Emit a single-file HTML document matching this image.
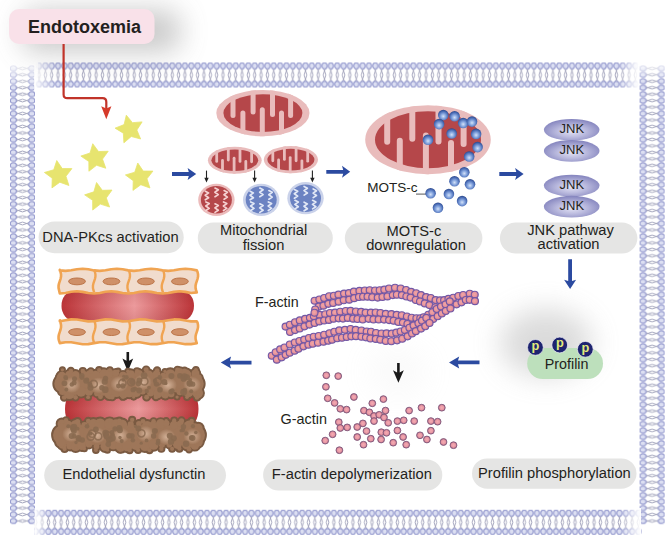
<!DOCTYPE html>
<html><head><meta charset="utf-8"><style>
html,body{margin:0;padding:0;background:#fff;}
svg{display:block;font-family:"Liberation Sans", sans-serif;}
</style></head><body>
<svg width="669" height="542" viewBox="0 0 669 542">
<rect width="669" height="542" fill="#fff"/>
<defs>
<filter id="shblur" x="-60%" y="-150%" width="220%" height="400%"><feGaussianBlur stdDeviation="14"/></filter>
<filter id="soft" x="-80%" y="-80%" width="260%" height="260%"><feGaussianBlur stdDeviation="14"/></filter>
<pattern id="memH" x="0" y="0" width="6.345" height="25" patternUnits="userSpaceOnUse">
  <path d="M1.97,5.6 L3.17,8.2 L1.87,12.5 L3.17,16.8 L1.97,19.4 M4.37,5.6 L3.17,8.2 L4.47,12.5 L3.17,16.8 L4.37,19.4" fill="none" stroke="#9a9cb6" stroke-width="0.9"/>
  <rect x="0.72" y="0.4" width="4.9" height="5.8" rx="2.3" fill="#dcdff2" stroke="#989dd0" stroke-width="1.15"/>
  <rect x="0.72" y="18.8" width="4.9" height="5.8" rx="2.3" fill="#dcdff2" stroke="#989dd0" stroke-width="1.15"/>
</pattern>
<pattern id="memV" x="0" y="0" width="25" height="6.467" patternUnits="userSpaceOnUse">
  <path d="M5.6,2.03 L8.2,3.23 L12.5,1.88 L16.8,3.23 L19.4,2.03 M5.6,4.43 L8.2,3.23 L12.5,4.58 L16.8,3.23 L19.4,4.43" fill="none" stroke="#9a9cb6" stroke-width="0.9"/>
  <rect x="0.4" y="0.78" width="5.9" height="4.9" rx="2.3" fill="#dcdff2" stroke="#989dd0" stroke-width="1.15"/>
  <rect x="18.8" y="0.78" width="5.9" height="4.9" rx="2.3" fill="#dcdff2" stroke="#989dd0" stroke-width="1.15"/>
</pattern>
<radialGradient id="ballG" cx="0.5" cy="0.6" r="0.6" fx="0.5" fy="0.62"><stop offset="0" stop-color="#d4e2f8"/><stop offset="0.4" stop-color="#84a4de"/><stop offset="0.8" stop-color="#4264ae"/><stop offset="1" stop-color="#2c4686"/></radialGradient>
<radialGradient id="jnkG" cx="0.5" cy="0.58" r="0.56"><stop offset="0" stop-color="#e2e2f4"/><stop offset="0.45" stop-color="#bcbcdf"/><stop offset="1" stop-color="#8686bf"/></radialGradient>
<radialGradient id="actG" cx="0.45" cy="0.45" r="0.6"><stop offset="0" stop-color="#f4a8a2"/><stop offset="0.55" stop-color="#e6949e"/><stop offset="1" stop-color="#b06c8c"/></radialGradient>
<radialGradient id="gactG" cx="0.5" cy="0.5" r="0.55"><stop offset="0" stop-color="#f6acb4"/><stop offset="0.55" stop-color="#e898a4"/><stop offset="0.9" stop-color="#b86c84"/><stop offset="1" stop-color="#9a5a76"/></radialGradient>
<linearGradient id="vesselH" x1="0" x2="1" y1="0" y2="0"><stop offset="0" stop-color="#bb3438"/><stop offset="0.55" stop-color="#ec9a9c"/><stop offset="1" stop-color="#bb3438"/></linearGradient>
<linearGradient id="vesselV" x1="0" x2="0" y1="0" y2="1"><stop offset="0" stop-color="#6a0000" stop-opacity="0.18"/><stop offset="0.5" stop-color="#6a0000" stop-opacity="0"/><stop offset="1" stop-color="#6a0000" stop-opacity="0.18"/></linearGradient>
<linearGradient id="fadeR" x1="0" x2="1"><stop offset="0" stop-color="#fff"/><stop offset="1" stop-color="#fff" stop-opacity="0"/></linearGradient>
<linearGradient id="fadeL" x1="1" x2="0"><stop offset="0" stop-color="#fff"/><stop offset="1" stop-color="#fff" stop-opacity="0"/></linearGradient>
<linearGradient id="fadeD" x1="0" x2="0" y1="0" y2="1"><stop offset="0" stop-color="#fff"/><stop offset="1" stop-color="#fff" stop-opacity="0"/></linearGradient>
</defs>
<g transform="translate(35.83,62.5)"><rect width="602.8" height="25" fill="url(#memH)"/></g>
<g transform="translate(32.53,509.8)"><rect x="2.0" width="607.1" height="25" fill="url(#memH)"/></g>
<g transform="translate(10,65.07)"><rect width="25" height="459.2" fill="url(#memV)"/></g>
<g transform="translate(639.6,65.07)"><rect width="25" height="459.2" fill="url(#memV)"/></g>
<rect x="619" y="60" width="20" height="30" fill="url(#fadeL)"/>
<rect x="638" y="60" width="30" height="22" fill="url(#fadeD)"/>
<rect x="621" y="508" width="20" height="28" fill="url(#fadeL)"/>
<rect x="34.5" y="508" width="14" height="28" fill="url(#fadeR)"/>
<rect x="8" y="62" width="30" height="28" fill="url(#fadeD)" opacity="0.92"/>
<rect x="34" y="60" width="22" height="30" fill="url(#fadeR)" opacity="0.9"/>
<rect x="22" y="10" width="158" height="42" rx="14" fill="#7a7a7a" opacity="0.4" filter="url(#shblur)"/>
<rect x="9" y="9" width="145.5" height="35" rx="10" fill="#f9e1e9"/>
<text x="28" y="32.6" font-size="18" font-weight="bold" fill="#231f20">Endotoxemia</text>
<path d="M63.6,44 L63.6,94.5 Q63.6,98.2 67.3,98.2 L102.6,98.2 Q106.3,98.2 106.3,101.9 L106.3,109" fill="none" stroke="#c1342a" stroke-width="2.2"/>
<polygon points="101.2,106.2 106.3,108.6 111.4,106.2 106.3,119.2" fill="#d63a2a"/>
<polygon points="126.32,115.17 132.45,122.68 142.11,121.88 136.87,130.04 140.62,138.98 131.24,136.51 123.9,142.84 123.34,133.16 115.06,128.13 124.09,124.61" fill="#e7e46f" stroke="#e7e46f" stroke-width="0.8" stroke-linejoin="round"/>
<polygon points="92.76,143.72 98.5,151.54 108.19,151.25 102.53,159.12 105.8,168.24 96.57,165.29 88.9,171.22 88.85,161.53 80.84,156.07 90.05,153.03" fill="#e7e46f" stroke="#e7e46f" stroke-width="0.8" stroke-linejoin="round"/>
<polygon points="56.77,160.54 62.23,168.55 71.92,168.6 65.99,176.27 68.94,185.5 59.82,182.23 51.95,187.89 52.24,178.2 44.42,172.46 53.73,169.75" fill="#e7e46f" stroke="#e7e46f" stroke-width="0.8" stroke-linejoin="round"/>
<polygon points="137.77,163.04 143.23,171.05 152.92,171.1 146.99,178.77 149.94,188 140.82,184.73 132.95,190.39 133.24,180.7 125.42,174.96 134.73,172.25" fill="#e7e46f" stroke="#e7e46f" stroke-width="0.8" stroke-linejoin="round"/>
<polygon points="96.56,182.52 102.3,190.34 111.99,190.05 106.33,197.92 109.6,207.04 100.37,204.09 92.7,210.02 92.65,200.33 84.64,194.87 93.85,191.83" fill="#e7e46f" stroke="#e7e46f" stroke-width="0.8" stroke-linejoin="round"/>
<ellipse cx="262.9" cy="113.1" rx="46.6" ry="23.2" fill="#e9bcbc"/><ellipse cx="262.9" cy="113.1" rx="39.5" ry="18.8" fill="#b5474a"/><clipPath id="m1"><ellipse cx="262.9" cy="113.1" rx="46.6" ry="23.2"/></clipPath><g clip-path="url(#m1)" stroke="#e9bcbc" stroke-width="5" stroke-linecap="round"><line x1="233" y1="89.9" x2="233" y2="115.4"/><line x1="253.1" y1="89.9" x2="253.1" y2="112.1"/><line x1="272.5" y1="89.9" x2="272.5" y2="114.6"/><line x1="290.6" y1="89.9" x2="290.6" y2="115.4"/><line x1="242.9" y1="136.3" x2="242.9" y2="113"/><line x1="262.3" y1="136.3" x2="262.3" y2="109.7"/><line x1="281.5" y1="136.3" x2="281.5" y2="113"/></g>
<ellipse cx="234.8" cy="160.3" rx="26.9" ry="13.5" fill="#e9bcbc"/><ellipse cx="234.8" cy="160.3" rx="23.4" ry="10.8" fill="#b5474a"/><clipPath id="m2"><ellipse cx="234.8" cy="160.3" rx="26.9" ry="13.5"/></clipPath><g clip-path="url(#m2)" stroke="#e9bcbc" stroke-width="2.8" stroke-linecap="round"><line x1="216.7" y1="146.8" x2="216.7" y2="161.4"/><line x1="228.3" y1="146.8" x2="228.3" y2="160"/><line x1="240" y1="146.8" x2="240" y2="161.4"/><line x1="251.6" y1="146.8" x2="251.6" y2="161.8"/><line x1="222.5" y1="173.8" x2="222.5" y2="160.5"/><line x1="234.1" y1="173.8" x2="234.1" y2="158.2"/><line x1="245.8" y1="173.8" x2="245.8" y2="161.4"/></g>
<ellipse cx="290.9" cy="159.7" rx="27.1" ry="13.6" fill="#e9bcbc"/><ellipse cx="290.9" cy="159.7" rx="23.5" ry="10.9" fill="#b5474a"/><clipPath id="m3"><ellipse cx="290.9" cy="159.7" rx="27.1" ry="13.6"/></clipPath><g clip-path="url(#m3)" stroke="#e9bcbc" stroke-width="2.8" stroke-linecap="round"><line x1="272.8" y1="146.1" x2="272.8" y2="160.8"/><line x1="284.4" y1="146.1" x2="284.4" y2="159.4"/><line x1="296.1" y1="146.1" x2="296.1" y2="160.8"/><line x1="307.7" y1="146.1" x2="307.7" y2="161.2"/><line x1="278.6" y1="173.3" x2="278.6" y2="159.9"/><line x1="290.2" y1="173.3" x2="290.2" y2="157.6"/><line x1="301.9" y1="173.3" x2="301.9" y2="160.8"/></g>
<ellipse cx="216.4" cy="199.8" rx="18.2" ry="16.1" fill="#ecbcbc"/><ellipse cx="216.4" cy="199.8" rx="15.5" ry="13.8" fill="#b5474a"/><path d="M205.3,191.2 L208.6,192.9 L205.2,195.3 L208.6,197.7 L205.3,199.8" fill="none" stroke="#f6d2d2" stroke-width="1.7" stroke-linejoin="round" stroke-linecap="round"/><path d="M215,188.1 L218.3,189.8 L214.9,192.2 L218.3,194.6 L215,196.7" fill="none" stroke="#f6d2d2" stroke-width="1.7" stroke-linejoin="round" stroke-linecap="round"/><path d="M224.1,190.6 L227.4,192.3 L224,194.7 L227.4,197.1 L224.1,199.2" fill="none" stroke="#f6d2d2" stroke-width="1.7" stroke-linejoin="round" stroke-linecap="round"/><path d="M205.9,201.9 L209.2,203.6 L205.8,206 L209.2,208.4 L205.9,210.5" fill="none" stroke="#f6d2d2" stroke-width="1.7" stroke-linejoin="round" stroke-linecap="round"/><path d="M215,203.8 L218.3,205.5 L214.9,207.9 L218.3,210.3 L215,212.4" fill="none" stroke="#f6d2d2" stroke-width="1.7" stroke-linejoin="round" stroke-linecap="round"/><path d="M223.5,201.9 L226.8,203.6 L223.4,206 L226.8,208.4 L223.5,210.5" fill="none" stroke="#f6d2d2" stroke-width="1.7" stroke-linejoin="round" stroke-linecap="round"/>
<ellipse cx="261.2" cy="199.8" rx="18.2" ry="16.1" fill="#cad2ea"/><ellipse cx="261.2" cy="199.8" rx="15.5" ry="13.8" fill="#6b82c2"/><path d="M250.1,191.2 L253.4,192.9 L250,195.3 L253.4,197.7 L250.1,199.8" fill="none" stroke="#e2e8f6" stroke-width="1.7" stroke-linejoin="round" stroke-linecap="round"/><path d="M259.8,188.1 L263.1,189.8 L259.7,192.2 L263.1,194.6 L259.8,196.7" fill="none" stroke="#e2e8f6" stroke-width="1.7" stroke-linejoin="round" stroke-linecap="round"/><path d="M268.9,190.6 L272.2,192.3 L268.8,194.7 L272.2,197.1 L268.9,199.2" fill="none" stroke="#e2e8f6" stroke-width="1.7" stroke-linejoin="round" stroke-linecap="round"/><path d="M250.7,201.9 L254,203.6 L250.6,206 L254,208.4 L250.7,210.5" fill="none" stroke="#e2e8f6" stroke-width="1.7" stroke-linejoin="round" stroke-linecap="round"/><path d="M259.8,203.8 L263.1,205.5 L259.7,207.9 L263.1,210.3 L259.8,212.4" fill="none" stroke="#e2e8f6" stroke-width="1.7" stroke-linejoin="round" stroke-linecap="round"/><path d="M268.3,201.9 L271.6,203.6 L268.2,206 L271.6,208.4 L268.3,210.5" fill="none" stroke="#e2e8f6" stroke-width="1.7" stroke-linejoin="round" stroke-linecap="round"/>
<ellipse cx="305.5" cy="198.2" rx="18.2" ry="16.1" fill="#cad2ea"/><ellipse cx="305.5" cy="198.2" rx="15.5" ry="13.8" fill="#6b82c2"/><path d="M294.4,189.6 L297.7,191.3 L294.3,193.7 L297.7,196.1 L294.4,198.2" fill="none" stroke="#e2e8f6" stroke-width="1.7" stroke-linejoin="round" stroke-linecap="round"/><path d="M304.1,186.5 L307.4,188.2 L304,190.6 L307.4,193 L304.1,195.1" fill="none" stroke="#e2e8f6" stroke-width="1.7" stroke-linejoin="round" stroke-linecap="round"/><path d="M313.2,189 L316.5,190.7 L313.1,193.1 L316.5,195.5 L313.2,197.6" fill="none" stroke="#e2e8f6" stroke-width="1.7" stroke-linejoin="round" stroke-linecap="round"/><path d="M295,200.3 L298.3,202 L294.9,204.4 L298.3,206.8 L295,208.9" fill="none" stroke="#e2e8f6" stroke-width="1.7" stroke-linejoin="round" stroke-linecap="round"/><path d="M304.1,202.2 L307.4,203.9 L304,206.3 L307.4,208.7 L304.1,210.8" fill="none" stroke="#e2e8f6" stroke-width="1.7" stroke-linejoin="round" stroke-linecap="round"/><path d="M312.6,200.3 L315.9,202 L312.5,204.4 L315.9,206.8 L312.6,208.9" fill="none" stroke="#e2e8f6" stroke-width="1.7" stroke-linejoin="round" stroke-linecap="round"/>
<line x1="206.5" y1="170.6" x2="206.5" y2="178.5" stroke="#222" stroke-width="1.1"/>
<polygon points="204.3,177.8 208.7,177.8 206.5,182.6" fill="#222"/>
<line x1="254.6" y1="170.6" x2="254.6" y2="178.5" stroke="#222" stroke-width="1.1"/>
<polygon points="252.4,177.8 256.8,177.8 254.6,182.6" fill="#222"/>
<line x1="312.4" y1="170.6" x2="312.4" y2="178.5" stroke="#222" stroke-width="1.1"/>
<polygon points="310.2,177.8 314.6,177.8 312.4,182.6" fill="#222"/>
<ellipse cx="428" cy="139.7" rx="62.8" ry="34.5" fill="#e9bcbc"/><ellipse cx="428" cy="139.7" rx="53" ry="28.5" fill="#b5474a"/><clipPath id="m4"><ellipse cx="428" cy="139.7" rx="62.8" ry="34.5"/></clipPath><g clip-path="url(#m4)" stroke="#e9bcbc" stroke-width="6" stroke-linecap="round"><line x1="387.2" y1="105.2" x2="387.2" y2="141.8"/><line x1="412.3" y1="105.2" x2="412.3" y2="138.7"/><line x1="438.5" y1="105.2" x2="438.5" y2="141.5"/><line x1="463.6" y1="105.2" x2="463.6" y2="144"/><line x1="399.8" y1="174.2" x2="399.8" y2="140.8"/><line x1="425.9" y1="174.2" x2="425.9" y2="135.6"/><line x1="451" y1="174.2" x2="451" y2="142.9"/></g>
<text x="367.3" y="192.3" font-size="13.5" fill="#231f20">MOTS-c</text>
<line x1="416" y1="194.1" x2="428" y2="194.1" stroke="#444" stroke-width="0.9"/>
<circle cx="443.3" cy="115.1" r="5.3" fill="url(#ballG)"/>
<circle cx="454.6" cy="116.3" r="5.3" fill="url(#ballG)"/>
<circle cx="439.1" cy="124.1" r="5.3" fill="url(#ballG)"/>
<circle cx="463.2" cy="123" r="5.3" fill="url(#ballG)"/>
<circle cx="472" cy="121.6" r="5.3" fill="url(#ballG)"/>
<circle cx="451.7" cy="133.5" r="5.3" fill="url(#ballG)"/>
<circle cx="476.1" cy="133.9" r="5.3" fill="url(#ballG)"/>
<circle cx="428" cy="139.8" r="5.3" fill="url(#ballG)"/>
<circle cx="477.6" cy="147.1" r="5.3" fill="url(#ballG)"/>
<circle cx="469.2" cy="156.5" r="5.3" fill="url(#ballG)"/>
<circle cx="464.3" cy="172.2" r="5.3" fill="url(#ballG)"/>
<circle cx="454.5" cy="181.3" r="5.3" fill="url(#ballG)"/>
<circle cx="470" cy="184.3" r="5.3" fill="url(#ballG)"/>
<circle cx="430.6" cy="193.2" r="5.3" fill="url(#ballG)"/>
<circle cx="448.9" cy="194" r="5.3" fill="url(#ballG)"/>
<circle cx="462.1" cy="201.1" r="5.3" fill="url(#ballG)"/>
<circle cx="438" cy="207.7" r="5.3" fill="url(#ballG)"/>
<ellipse cx="571.7" cy="129.8" rx="27.8" ry="10.9" fill="url(#jnkG)"/>
<text x="571.8" y="132.7" text-anchor="middle" font-size="13" fill="#231f20">JNK</text>
<ellipse cx="571.7" cy="150.9" rx="27.8" ry="10.9" fill="url(#jnkG)"/>
<text x="571.8" y="153.8" text-anchor="middle" font-size="13" fill="#231f20">JNK</text>
<ellipse cx="571.7" cy="185.6" rx="27.8" ry="10.9" fill="url(#jnkG)"/>
<text x="571.8" y="188.5" text-anchor="middle" font-size="13" fill="#231f20">JNK</text>
<ellipse cx="571.7" cy="206.7" rx="27.8" ry="10.9" fill="url(#jnkG)"/>
<text x="571.8" y="209.6" text-anchor="middle" font-size="13" fill="#231f20">JNK</text>
<polygon points="172,172.1 188.8,172.1 187.6,168 196.2,174 187.6,180 188.8,175.9 172,175.9" fill="#2b4aa0"/>
<polygon points="326.3,169.9 343.2,169.9 342,165.8 350.2,171.8 342,177.8 343.2,173.7 326.3,173.7" fill="#2b4aa0"/>
<polygon points="499.3,172.1 516.3,172.1 515.1,168 523.6,174 515.1,180 516.3,175.9 499.3,175.9" fill="#2b4aa0"/>
<polygon points="568.2,259.3 568.2,280.9 564.1,279.7 570.1,289 576.1,279.7 572,280.9 572,259.3" fill="#2b4aa0"/>
<polygon points="479.5,360.5 458,360.5 459.2,356.4 449,362.4 459.2,368.4 458,364.3 479.5,364.3" fill="#2b4aa0"/>
<polygon points="251.5,360.7 229.9,360.7 231.1,356.6 220.8,362.6 231.1,368.6 229.9,364.5 251.5,364.5" fill="#2b4aa0"/>
<rect x="38.6" y="221.4" width="145.1" height="31.8" rx="15.9" fill="#e5e5e4"/><text x="110.5" y="241.5" text-anchor="middle" font-size="14.7" fill="#231f20">DNA-PKcs activation</text>
<rect x="197.8" y="222.4" width="135" height="31.2" rx="15.6" fill="#e5e5e4"/><text x="263.6" y="235.1" text-anchor="middle" font-size="14.7" fill="#231f20">Mitochondrial</text><text x="263.5" y="249.5" text-anchor="middle" font-size="14.7" fill="#231f20">fission</text>
<rect x="344.8" y="222.6" width="137.6" height="31" rx="15.5" fill="#e5e5e4"/><text x="413.95" y="236" text-anchor="middle" font-size="14.7" fill="#231f20">MOTS-c</text><text x="416" y="249.9" text-anchor="middle" font-size="14.7" fill="#231f20">downregulation</text>
<rect x="499.9" y="222.6" width="137.5" height="31" rx="15.5" fill="#e5e5e4"/><text x="570.55" y="235.4" text-anchor="middle" font-size="14.7" fill="#231f20">JNK pathway</text><text x="568.5" y="249.4" text-anchor="middle" font-size="14.7" fill="#231f20">activation</text>
<rect x="472" y="458.4" width="164.5" height="30.4" rx="15.2" fill="#e5e5e4"/><text x="554.4" y="478" text-anchor="middle" font-size="14.7" fill="#231f20">Profilin phosphorylation</text>
<rect x="263.1" y="459.4" width="179.2" height="31.2" rx="15.6" fill="#e5e5e4"/><text x="351.85" y="479" text-anchor="middle" font-size="14.7" fill="#231f20">F-actin depolymerization</text>
<rect x="44.2" y="460" width="181.8" height="30.4" rx="15.2" fill="#e5e5e4"/><text x="134" y="479.1" text-anchor="middle" font-size="14.7" fill="#231f20">Endothelial dysfunctin</text>
<ellipse cx="546" cy="343" rx="46" ry="34" fill="#a0a0a0" opacity="0.38" filter="url(#soft)"/>
<rect x="527.2" y="348" width="75.8" height="31" rx="15.5" fill="#bde0bc"/>
<text x="566.6" y="369.1" text-anchor="middle" font-size="14.3" fill="#231f20">Profilin</text>
<circle cx="535.4" cy="347.4" r="7.9" fill="#1e2470" stroke="#f0f0f6" stroke-width="0.7"/>
<text x="535.5" y="349.7" text-anchor="middle" font-size="12.8" font-weight="bold" fill="#e2ec7c">p</text>
<circle cx="559.7" cy="345" r="7.9" fill="#1e2470" stroke="#f0f0f6" stroke-width="0.7"/>
<text x="559.8" y="347.3" text-anchor="middle" font-size="12.8" font-weight="bold" fill="#e2ec7c">p</text>
<circle cx="585.3" cy="349.3" r="7.9" fill="#1e2470" stroke="#f0f0f6" stroke-width="0.7"/>
<text x="585.4" y="351.6" text-anchor="middle" font-size="12.8" font-weight="bold" fill="#e2ec7c">p</text>
<ellipse cx="398" cy="372" rx="30" ry="26" fill="#d8d8d8" opacity="0.12" filter="url(#soft)"/>
<polygon points="397.1,363 397.1,372.4 393,370.2 398.4,382.8 403.8,370.2 399.7,372.4 399.7,363" fill="#1a1a1a"/>
<g fill="url(#actG)" stroke="#7258a6" stroke-width="1.1"><circle cx="314.61" cy="300.79" r="3.5"/><circle cx="319.36" cy="299.51" r="3.5"/><circle cx="324.15" cy="297.93" r="3.5"/><circle cx="329.09" cy="296.2" r="3.5"/><circle cx="333.85" cy="295.68" r="3.5"/><circle cx="338.45" cy="294.63" r="3.5"/><circle cx="344.08" cy="293.62" r="3.5"/><circle cx="348.92" cy="293.13" r="3.5"/><circle cx="353.87" cy="291.66" r="3.5"/><circle cx="359.47" cy="290.89" r="3.5"/><circle cx="364.81" cy="290.51" r="3.5"/><circle cx="369.72" cy="290.18" r="3.5"/><circle cx="375.08" cy="290.47" r="3.5"/><circle cx="379.71" cy="290.23" r="3.5"/><circle cx="384.35" cy="289.67" r="3.5"/><circle cx="389.01" cy="288.54" r="3.5"/><circle cx="395.02" cy="287.78" r="3.5"/><circle cx="400.68" cy="288.55" r="3.5"/><circle cx="406.15" cy="290.05" r="3.5"/><circle cx="411.14" cy="291.83" r="3.5"/><circle cx="416.19" cy="293.21" r="3.5"/><circle cx="421.01" cy="295.09" r="3.5"/><circle cx="426.11" cy="297.08" r="3.5"/><circle cx="430.77" cy="297.98" r="3.5"/><circle cx="435.63" cy="300.09" r="3.5"/><circle cx="440.04" cy="300.33" r="3.5"/><circle cx="444.13" cy="300.16" r="3.5"/><circle cx="448.44" cy="298.86" r="3.5"/><circle cx="453.27" cy="297.78" r="3.5"/><circle cx="458.38" cy="296.02" r="3.5"/><circle cx="463.18" cy="294.93" r="3.5"/><circle cx="469.75" cy="293.7" r="3.5"/><circle cx="474.74" cy="294.76" r="3.5"/><circle cx="318.7" cy="306.66" r="3.5"/><circle cx="323.45" cy="305.63" r="3.5"/><circle cx="328.36" cy="303.83" r="3.5"/><circle cx="333.15" cy="302.98" r="3.5"/><circle cx="338.67" cy="301.67" r="3.5"/><circle cx="343.75" cy="300.18" r="3.5"/><circle cx="349.26" cy="299.67" r="3.5"/><circle cx="354.2" cy="298.14" r="3.5"/><circle cx="358.99" cy="297.07" r="3.5"/><circle cx="363.1" cy="296.72" r="3.5"/><circle cx="367.54" cy="296.66" r="3.5"/><circle cx="372.26" cy="297.24" r="3.5"/><circle cx="377.74" cy="297.59" r="3.5"/><circle cx="382.46" cy="297" r="3.5"/><circle cx="387.47" cy="296.39" r="3.5"/><circle cx="392.84" cy="295.09" r="3.5"/><circle cx="396.83" cy="294.74" r="3.5"/><circle cx="401.9" cy="295.17" r="3.5"/><circle cx="406.41" cy="296.56" r="3.5"/><circle cx="410.58" cy="297.62" r="3.5"/><circle cx="415.77" cy="300.03" r="3.5"/><circle cx="420" cy="301.43" r="3.5"/><circle cx="424.78" cy="303.38" r="3.5"/><circle cx="429.44" cy="305.08" r="3.5"/><circle cx="435.42" cy="307.23" r="3.5"/><circle cx="441.35" cy="307.87" r="3.5"/><circle cx="446.73" cy="306.89" r="3.5"/><circle cx="451.1" cy="305.43" r="3.5"/><circle cx="456.57" cy="304.33" r="3.5"/><circle cx="461.54" cy="302.33" r="3.5"/><circle cx="465.82" cy="300.05" r="3.5"/><circle cx="469.67" cy="299.86" r="3.5"/><circle cx="474.97" cy="301.14" r="3.5"/><circle cx="285.57" cy="326.61" r="3.5"/><circle cx="289.89" cy="324.74" r="3.5"/><circle cx="295.02" cy="322.21" r="3.5"/><circle cx="299.78" cy="320.4" r="3.5"/><circle cx="305.11" cy="318.88" r="3.5"/><circle cx="309.92" cy="317.86" r="3.5"/><circle cx="313.84" cy="316.23" r="3.5"/><circle cx="319.69" cy="314.91" r="3.5"/><circle cx="325.24" cy="314.18" r="3.5"/><circle cx="329.97" cy="312.94" r="3.5"/><circle cx="335.04" cy="312.64" r="3.5"/><circle cx="340.23" cy="311.73" r="3.5"/><circle cx="345.76" cy="310.97" r="3.5"/><circle cx="350.59" cy="310.91" r="3.5"/><circle cx="355.91" cy="311.43" r="3.5"/><circle cx="361.1" cy="311.84" r="3.5"/><circle cx="365.65" cy="312.62" r="3.5"/><circle cx="370.86" cy="312.58" r="3.5"/><circle cx="375.67" cy="312.56" r="3.5"/><circle cx="380.49" cy="313.02" r="3.5"/><circle cx="385.8" cy="313.86" r="3.5"/><circle cx="391.44" cy="314.11" r="3.5"/><circle cx="396.7" cy="314.89" r="3.5"/><circle cx="401.76" cy="315.19" r="3.5"/><circle cx="406.91" cy="316.5" r="3.5"/><circle cx="411.65" cy="317.79" r="3.5"/><circle cx="416.41" cy="318.2" r="3.5"/><circle cx="420.3" cy="318.24" r="3.5"/><circle cx="423.59" cy="317.31" r="3.5"/><circle cx="428.26" cy="314.71" r="3.5"/><circle cx="432.4" cy="312.27" r="3.5"/><circle cx="436.72" cy="308.99" r="3.5"/><circle cx="441.01" cy="306.48" r="3.5"/><circle cx="445.56" cy="304.36" r="3.5"/><circle cx="449.78" cy="301.38" r="3.5"/><circle cx="290.03" cy="332" r="3.5"/><circle cx="295.07" cy="330.1" r="3.5"/><circle cx="299.75" cy="328.48" r="3.5"/><circle cx="304.51" cy="326.37" r="3.5"/><circle cx="309.52" cy="324.61" r="3.5"/><circle cx="314.62" cy="322.95" r="3.5"/><circle cx="319.32" cy="321.4" r="3.5"/><circle cx="324.18" cy="320.53" r="3.5"/><circle cx="328.95" cy="319.9" r="3.5"/><circle cx="333.58" cy="318.8" r="3.5"/><circle cx="338.7" cy="318.37" r="3.5"/><circle cx="342.99" cy="318.58" r="3.5"/><circle cx="347.8" cy="317.88" r="3.5"/><circle cx="353.13" cy="318.64" r="3.5"/><circle cx="357.46" cy="319.06" r="3.5"/><circle cx="362.74" cy="319.54" r="3.5"/><circle cx="368.64" cy="318.87" r="3.5"/><circle cx="373.47" cy="319.53" r="3.5"/><circle cx="378.68" cy="319.51" r="3.5"/><circle cx="384.08" cy="319.62" r="3.5"/><circle cx="389.12" cy="320.1" r="3.5"/><circle cx="393.61" cy="320.73" r="3.5"/><circle cx="398.32" cy="321.94" r="3.5"/><circle cx="402.94" cy="322.61" r="3.5"/><circle cx="407.44" cy="323.94" r="3.5"/><circle cx="412.89" cy="324.97" r="3.5"/><circle cx="417.99" cy="325.8" r="3.5"/><circle cx="424.17" cy="324.26" r="3.5"/><circle cx="429.17" cy="321.32" r="3.5"/><circle cx="433.21" cy="319.05" r="3.5"/><circle cx="437.67" cy="316.32" r="3.5"/><circle cx="441.88" cy="313.46" r="3.5"/><circle cx="445.78" cy="310.94" r="3.5"/><circle cx="450.44" cy="308.49" r="3.5"/><circle cx="271.78" cy="355.68" r="3.5"/><circle cx="275.67" cy="352.25" r="3.5"/><circle cx="280.15" cy="349.42" r="3.5"/><circle cx="284.5" cy="347.53" r="3.5"/><circle cx="289.8" cy="344.47" r="3.5"/><circle cx="294.82" cy="342.46" r="3.5"/><circle cx="299.41" cy="341.02" r="3.5"/><circle cx="304.24" cy="339.59" r="3.5"/><circle cx="308.92" cy="338.04" r="3.5"/><circle cx="313.69" cy="336.76" r="3.5"/><circle cx="318.7" cy="336.01" r="3.5"/><circle cx="324.16" cy="334.8" r="3.5"/><circle cx="329.43" cy="333.27" r="3.5"/><circle cx="334.31" cy="331.79" r="3.5"/><circle cx="339.28" cy="330.4" r="3.5"/><circle cx="344.97" cy="329.86" r="3.5"/><circle cx="350.56" cy="329.05" r="3.5"/><circle cx="355.74" cy="329.9" r="3.5"/><circle cx="361.48" cy="330.49" r="3.5"/><circle cx="366.73" cy="331.52" r="3.5"/><circle cx="370.99" cy="331.8" r="3.5"/><circle cx="376.07" cy="333.06" r="3.5"/><circle cx="381.59" cy="333.52" r="3.5"/><circle cx="386.59" cy="333.39" r="3.5"/><circle cx="391.75" cy="333.66" r="3.5"/><circle cx="396.3" cy="332.65" r="3.5"/><circle cx="400.6" cy="331.43" r="3.5"/><circle cx="404.87" cy="329.99" r="3.5"/><circle cx="409.44" cy="327.77" r="3.5"/><circle cx="413.65" cy="325.55" r="3.5"/><circle cx="418.46" cy="323.18" r="3.5"/><circle cx="422.04" cy="320.63" r="3.5"/><circle cx="426.33" cy="317.89" r="3.5"/><circle cx="276.84" cy="359.63" r="3.5"/><circle cx="281.71" cy="357.34" r="3.5"/><circle cx="285.69" cy="354.84" r="3.5"/><circle cx="289.72" cy="352.82" r="3.5"/><circle cx="294.63" cy="350.72" r="3.5"/><circle cx="298.44" cy="348.75" r="3.5"/><circle cx="303.49" cy="346.35" r="3.5"/><circle cx="308.44" cy="344.82" r="3.5"/><circle cx="312.72" cy="343.76" r="3.5"/><circle cx="317.97" cy="342.82" r="3.5"/><circle cx="323.5" cy="341.75" r="3.5"/><circle cx="328.22" cy="340.68" r="3.5"/><circle cx="332.12" cy="339.74" r="3.5"/><circle cx="337.25" cy="338.32" r="3.5"/><circle cx="341.98" cy="337.78" r="3.5"/><circle cx="346.73" cy="336.93" r="3.5"/><circle cx="351.34" cy="336.34" r="3.5"/><circle cx="356.01" cy="336.13" r="3.5"/><circle cx="361.46" cy="336.82" r="3.5"/><circle cx="365.93" cy="337.33" r="3.5"/><circle cx="370.39" cy="338.53" r="3.5"/><circle cx="375.81" cy="338.92" r="3.5"/><circle cx="380.32" cy="339.75" r="3.5"/><circle cx="385.75" cy="341" r="3.5"/><circle cx="391.29" cy="341.21" r="3.5"/><circle cx="397.12" cy="340.37" r="3.5"/><circle cx="402.26" cy="338.8" r="3.5"/><circle cx="407.62" cy="336.33" r="3.5"/><circle cx="412.08" cy="333.53" r="3.5"/><circle cx="415.85" cy="331.15" r="3.5"/><circle cx="421.07" cy="328.61" r="3.5"/><circle cx="425.3" cy="326.2" r="3.5"/><circle cx="429.57" cy="323.02" r="3.5"/><circle cx="315.2" cy="309.5" r="3.5"/><circle cx="314.5" cy="312.8" r="3.5"/></g>
<text x="255" y="307.3" font-size="14.3" fill="#231f20">F-actin</text>
<g fill="url(#gactG)" stroke="#80587c" stroke-width="0.9"><circle cx="326.3" cy="375.3" r="3.4"/><circle cx="338.2" cy="376.1" r="3.4"/><circle cx="325.9" cy="386.8" r="3.4"/><circle cx="327.7" cy="398.3" r="3.4"/><circle cx="334.6" cy="402.9" r="3.4"/><circle cx="340.3" cy="408.8" r="3.4"/><circle cx="346.6" cy="409.6" r="3.4"/><circle cx="353.9" cy="397" r="3.4"/><circle cx="372.3" cy="403.3" r="3.4"/><circle cx="383.4" cy="399.1" r="3.4"/><circle cx="363.9" cy="410.6" r="3.4"/><circle cx="369.4" cy="412.3" r="3.4"/><circle cx="374" cy="416" r="3.4"/><circle cx="379.2" cy="414.8" r="3.4"/><circle cx="385.5" cy="410.6" r="3.4"/><circle cx="384" cy="417.5" r="3.4"/><circle cx="374" cy="421.1" r="3.4"/><circle cx="388.2" cy="422.8" r="3.4"/><circle cx="338.8" cy="422.1" r="3.4"/><circle cx="340.3" cy="428" r="3.4"/><circle cx="347.2" cy="427.4" r="3.4"/><circle cx="357.2" cy="427" r="3.4"/><circle cx="362.9" cy="423.4" r="3.4"/><circle cx="366.5" cy="431.1" r="3.4"/><circle cx="332.6" cy="434.3" r="3.4"/><circle cx="325.2" cy="440.6" r="3.4"/><circle cx="357.2" cy="437" r="3.4"/><circle cx="370.8" cy="438.7" r="3.4"/><circle cx="381.3" cy="432.2" r="3.4"/><circle cx="386.5" cy="432.8" r="3.4"/><circle cx="381.1" cy="439.5" r="3.4"/><circle cx="397.4" cy="430.5" r="3.4"/><circle cx="403.1" cy="437" r="3.4"/><circle cx="397.4" cy="421.1" r="3.4"/><circle cx="403.7" cy="420.3" r="3.4"/><circle cx="409.1" cy="410.6" r="3.4"/><circle cx="414.2" cy="421.1" r="3.4"/><circle cx="421.5" cy="407.7" r="3.4"/><circle cx="430.9" cy="421.1" r="3.4"/><circle cx="437.6" cy="421.7" r="3.4"/><circle cx="441.8" cy="407.7" r="3.4"/><circle cx="430.9" cy="430.7" r="3.4"/><circle cx="420" cy="435.3" r="3.4"/><circle cx="426.9" cy="439.5" r="3.4"/><circle cx="393.2" cy="442.7" r="3.4"/><circle cx="406.2" cy="444.7" r="3.4"/><circle cx="363.5" cy="444.7" r="3.4"/><circle cx="443.5" cy="442" r="3.4"/><circle cx="453.5" cy="445.2" r="3.4"/><circle cx="339.4" cy="450.2" r="3.4"/></g>
<text x="280.5" y="424.1" font-size="14.4" fill="#231f20">G-actin</text>
<rect x="61.5" y="291" width="132.5" height="29.5" rx="12" ry="14.75" fill="url(#vesselH)"/>
<rect x="61.5" y="291" width="132.5" height="29.5" rx="12" ry="14.75" fill="url(#vesselV)" opacity="0.6"/>
<path d="M59.8,270.42 L65.51,270.9 L71.22,270.28 L76.92,269.18 L82.63,268.7 L88.34,269.32 L94.05,270.41 L99.76,270.9 L105.47,270.29 L111.17,269.19 L116.88,268.7 L122.59,269.31 L128.3,270.4 L134.01,270.9 L139.72,270.3 L145.43,269.2 L151.13,268.7 L156.84,269.3 L162.55,270.4 L168.26,270.9 L173.97,270.31 L179.68,269.21 L185.38,268.7 L191.09,269.29 L196.8,270.39 L197.56,272.06 L198.04,274.32 L198.04,276.58 L197.56,278.84 L196.8,281.1 L196.04,283.36 L195.56,285.62 L195.56,287.88 L196.04,290.14 L196.8,292.4 L191.09,292.94 L185.38,291.85 L179.68,291.3 L173.97,291.85 L168.26,292.95 L162.55,293.5 L156.84,292.95 L151.13,291.85 L145.43,291.3 L139.72,291.84 L134.01,292.94 L128.3,293.5 L122.59,292.96 L116.88,291.86 L111.17,291.3 L105.47,291.83 L99.76,292.93 L94.05,293.5 L88.34,292.97 L82.63,291.87 L76.92,291.3 L71.22,291.83 L65.51,292.92 L59.8,293.5 L59.04,290.14 L58.56,287.88 L58.56,285.62 L59.04,283.36 L59.8,281.1 L60.56,278.84 L61.04,276.58 L61.04,274.32 L60.56,272.06 L59.8,269.8Z" fill="#f1dccd" stroke="#f0a452" stroke-width="2.6" stroke-linejoin="round"/>
<path d="M94.2,269.8 L94.96,272.06 L95.44,274.32 L95.44,276.58 L94.96,278.84 L94.2,281.1 L93.44,283.36 L92.96,285.62 L92.96,287.88 L93.44,290.14 L94.2,292.4" fill="none" stroke="#f0a452" stroke-width="2.4"/>
<path d="M128.7,269.8 L129.46,272.06 L129.94,274.32 L129.94,276.58 L129.46,278.84 L128.7,281.1 L127.94,283.36 L127.46,285.62 L127.46,287.88 L127.94,290.14 L128.7,292.4" fill="none" stroke="#f0a452" stroke-width="2.4"/>
<path d="M163,269.8 L163.76,272.06 L164.24,274.32 L164.24,276.58 L163.76,278.84 L163,281.1 L162.24,283.36 L161.76,285.62 L161.76,287.88 L162.24,290.14 L163,292.4" fill="none" stroke="#f0a452" stroke-width="2.4"/>
<ellipse cx="77" cy="281.4" rx="8.4" ry="3.4" fill="#cf9068" stroke="#bb7448" stroke-width="1"/>
<ellipse cx="111.45" cy="281.4" rx="8.4" ry="3.4" fill="#cf9068" stroke="#bb7448" stroke-width="1"/>
<ellipse cx="145.85" cy="281.4" rx="8.4" ry="3.4" fill="#cf9068" stroke="#bb7448" stroke-width="1"/>
<ellipse cx="179.9" cy="281.4" rx="8.4" ry="3.4" fill="#cf9068" stroke="#bb7448" stroke-width="1"/>
<path d="M59.8,321.29 L65.51,320.29 L71.22,319.4 L76.92,319.51 L82.63,320.51 L88.34,321.4 L94.05,321.3 L99.76,320.3 L105.47,319.4 L111.17,319.5 L116.88,320.5 L122.59,321.4 L128.3,321.3 L134.01,320.31 L139.72,319.4 L145.43,319.5 L151.13,320.49 L156.84,321.39 L162.55,321.31 L168.26,320.32 L173.97,319.41 L179.68,319.49 L185.38,320.48 L191.09,321.39 L196.8,321.31 L197.56,322.68 L198.04,324.96 L198.04,327.24 L197.56,329.52 L196.8,331.8 L196.04,334.08 L195.56,336.36 L195.56,338.64 L196.04,340.92 L196.8,343.2 L191.09,344.14 L185.38,344.17 L179.68,343.23 L173.97,342.26 L168.26,342.23 L162.55,343.17 L156.84,344.13 L151.13,344.17 L145.43,343.24 L139.72,342.27 L134.01,342.23 L128.3,343.16 L122.59,344.13 L116.88,344.18 L111.17,343.25 L105.47,342.27 L99.76,342.22 L94.05,343.15 L88.34,344.12 L82.63,344.18 L76.92,343.26 L71.22,342.28 L65.51,342.22 L59.8,343.14 L59.04,340.92 L58.56,338.64 L58.56,336.36 L59.04,334.08 L59.8,331.8 L60.56,329.52 L61.04,327.24 L61.04,324.96 L60.56,322.68 L59.8,320.4Z" fill="#f1dccd" stroke="#f0a452" stroke-width="2.6" stroke-linejoin="round"/>
<path d="M94.2,320.4 L94.96,322.68 L95.44,324.96 L95.44,327.24 L94.96,329.52 L94.2,331.8 L93.44,334.08 L92.96,336.36 L92.96,338.64 L93.44,340.92 L94.2,343.2" fill="none" stroke="#f0a452" stroke-width="2.4"/>
<path d="M128.7,320.4 L129.46,322.68 L129.94,324.96 L129.94,327.24 L129.46,329.52 L128.7,331.8 L127.94,334.08 L127.46,336.36 L127.46,338.64 L127.94,340.92 L128.7,343.2" fill="none" stroke="#f0a452" stroke-width="2.4"/>
<path d="M163,320.4 L163.76,322.68 L164.24,324.96 L164.24,327.24 L163.76,329.52 L163,331.8 L162.24,334.08 L161.76,336.36 L161.76,338.64 L162.24,340.92 L163,343.2" fill="none" stroke="#f0a452" stroke-width="2.4"/>
<ellipse cx="77" cy="332.1" rx="8.4" ry="3.4" fill="#cf9068" stroke="#bb7448" stroke-width="1"/>
<ellipse cx="111.45" cy="332.1" rx="8.4" ry="3.4" fill="#cf9068" stroke="#bb7448" stroke-width="1"/>
<ellipse cx="145.85" cy="332.1" rx="8.4" ry="3.4" fill="#cf9068" stroke="#bb7448" stroke-width="1"/>
<ellipse cx="179.9" cy="332.1" rx="8.4" ry="3.4" fill="#cf9068" stroke="#bb7448" stroke-width="1"/>
<polygon points="126.5,352.1 126.5,360.8 122.4,358.6 127.8,371.5 133.2,358.6 129.1,360.8 129.1,352.1" fill="#1a1a1a"/>
<radialGradient id="dmgC" cx="0.5" cy="0.5" r="0.5"><stop offset="0" stop-color="#d2b096"/><stop offset="1" stop-color="#d2b096" stop-opacity="0"/></radialGradient>
<rect x="65" y="391" width="133.5" height="36" rx="11" ry="18" fill="url(#vesselH)"/>
<rect x="65" y="391" width="133.5" height="36" rx="11" ry="18" fill="url(#vesselV)"/>
<g fill="#7a5a42" stroke="#7a5a42" stroke-width="3.8"><circle cx="63" cy="383.75" r="8.75"/><circle cx="69" cy="383.75" r="8.75"/><circle cx="75" cy="383.75" r="8.75"/><circle cx="81" cy="383.75" r="8.75"/><circle cx="87" cy="383.75" r="8.75"/><circle cx="93" cy="383.75" r="8.75"/><circle cx="99" cy="383.75" r="8.75"/><circle cx="105" cy="383.75" r="8.75"/><circle cx="111" cy="383.75" r="8.75"/><circle cx="117" cy="383.75" r="8.75"/><circle cx="123" cy="383.75" r="8.75"/><circle cx="129" cy="383.75" r="8.75"/><circle cx="135" cy="383.75" r="8.75"/><circle cx="141" cy="383.75" r="8.75"/><circle cx="147" cy="383.75" r="8.75"/><circle cx="153" cy="383.75" r="8.75"/><circle cx="159" cy="383.75" r="8.75"/><circle cx="165" cy="383.75" r="8.75"/><circle cx="171" cy="383.75" r="8.75"/><circle cx="177" cy="383.75" r="8.75"/><circle cx="183" cy="383.75" r="8.75"/><circle cx="189" cy="383.75" r="8.75"/><circle cx="195" cy="383.75" r="8.75"/><circle cx="61.9" cy="376.16" r="4.37"/><circle cx="69.27" cy="375.08" r="4.22"/><circle cx="75.51" cy="375.22" r="4.23"/><circle cx="84.18" cy="374.17" r="3.06"/><circle cx="90.04" cy="375.42" r="5.07"/><circle cx="95.71" cy="376.29" r="5.55"/><circle cx="103.82" cy="373.7" r="4.52"/><circle cx="109.38" cy="373.39" r="4.28"/><circle cx="115.64" cy="373.3" r="3.48"/><circle cx="123" cy="375.9" r="4.03"/><circle cx="130.58" cy="374.8" r="4.59"/><circle cx="138.73" cy="374.09" r="4.08"/><circle cx="148.22" cy="375.89" r="5.59"/><circle cx="156.55" cy="373.93" r="3.68"/><circle cx="163.2" cy="375.65" r="3"/><circle cx="170.31" cy="374.44" r="5.17"/><circle cx="179.64" cy="373.2" r="5.17"/><circle cx="185.98" cy="374.7" r="5.35"/><circle cx="195.4" cy="373.43" r="3.91"/><circle cx="62.56" cy="391.38" r="3.56"/><circle cx="69.39" cy="393.53" r="5.5"/><circle cx="75.36" cy="391.42" r="3.49"/><circle cx="81.1" cy="391.67" r="5.03"/><circle cx="88.84" cy="391.71" r="4.05"/><circle cx="97.26" cy="393.16" r="3.17"/><circle cx="103.23" cy="391.78" r="3.98"/><circle cx="109.81" cy="393.67" r="5.52"/><circle cx="116.53" cy="391.77" r="5.28"/><circle cx="123.6" cy="393.15" r="5.19"/><circle cx="129.5" cy="391.78" r="5.57"/><circle cx="136.04" cy="392.15" r="4.96"/><circle cx="142.72" cy="391.39" r="3.01"/><circle cx="150.55" cy="393.02" r="3.48"/><circle cx="157.54" cy="394.17" r="4.07"/><circle cx="164.97" cy="393.87" r="4.41"/><circle cx="171.21" cy="394.01" r="3.23"/><circle cx="179.98" cy="391.71" r="3.5"/><circle cx="188.44" cy="391.73" r="5.43"/><circle cx="197.74" cy="393.03" r="5.27"/><circle cx="62.42" cy="369.86" r="1.64"/><circle cx="70.85" cy="371.06" r="2.3"/><circle cx="82.79" cy="371" r="2.2"/><circle cx="90.84" cy="371.38" r="2.32"/><circle cx="99.21" cy="370.05" r="2.16"/><circle cx="109.9" cy="369.94" r="1.88"/><circle cx="118.12" cy="371.04" r="1.62"/><circle cx="127.8" cy="371.2" r="1.66"/><circle cx="137.01" cy="371.28" r="2.17"/><circle cx="146.18" cy="369.83" r="2.49"/><circle cx="157.12" cy="370.51" r="2.29"/><circle cx="164.96" cy="371.47" r="1.64"/><circle cx="177.43" cy="369.86" r="2.3"/><circle cx="184.55" cy="370.68" r="2.24"/><circle cx="195.94" cy="369.8" r="1.92"/><circle cx="64.18" cy="397.53" r="2.34"/><circle cx="75.61" cy="397.35" r="2.3"/><circle cx="88.1" cy="397.16" r="1.95"/><circle cx="100.5" cy="396.71" r="2.47"/><circle cx="112.25" cy="396.97" r="2.46"/><circle cx="122.99" cy="396.99" r="1.98"/><circle cx="133.65" cy="397.09" r="1.68"/><circle cx="146.61" cy="397.24" r="2.48"/><circle cx="155.94" cy="396.99" r="2.34"/><circle cx="165.58" cy="396.14" r="2.44"/><circle cx="177.08" cy="397.02" r="1.63"/><circle cx="186.97" cy="397.19" r="1.83"/><circle cx="196.95" cy="397.56" r="2.21"/><circle cx="60.53" cy="378" r="3.95"/><circle cx="198.03" cy="378" r="3.8"/><circle cx="61.01" cy="383.75" r="4.86"/><circle cx="197.98" cy="383.75" r="4.16"/><circle cx="63.18" cy="389.5" r="3.99"/><circle cx="198" cy="389.5" r="3.8"/></g>
<g fill="#9e7659"><circle cx="63" cy="383.75" r="8.75"/><circle cx="69" cy="383.75" r="8.75"/><circle cx="75" cy="383.75" r="8.75"/><circle cx="81" cy="383.75" r="8.75"/><circle cx="87" cy="383.75" r="8.75"/><circle cx="93" cy="383.75" r="8.75"/><circle cx="99" cy="383.75" r="8.75"/><circle cx="105" cy="383.75" r="8.75"/><circle cx="111" cy="383.75" r="8.75"/><circle cx="117" cy="383.75" r="8.75"/><circle cx="123" cy="383.75" r="8.75"/><circle cx="129" cy="383.75" r="8.75"/><circle cx="135" cy="383.75" r="8.75"/><circle cx="141" cy="383.75" r="8.75"/><circle cx="147" cy="383.75" r="8.75"/><circle cx="153" cy="383.75" r="8.75"/><circle cx="159" cy="383.75" r="8.75"/><circle cx="165" cy="383.75" r="8.75"/><circle cx="171" cy="383.75" r="8.75"/><circle cx="177" cy="383.75" r="8.75"/><circle cx="183" cy="383.75" r="8.75"/><circle cx="189" cy="383.75" r="8.75"/><circle cx="195" cy="383.75" r="8.75"/><circle cx="61.9" cy="376.16" r="4.37"/><circle cx="69.27" cy="375.08" r="4.22"/><circle cx="75.51" cy="375.22" r="4.23"/><circle cx="84.18" cy="374.17" r="3.06"/><circle cx="90.04" cy="375.42" r="5.07"/><circle cx="95.71" cy="376.29" r="5.55"/><circle cx="103.82" cy="373.7" r="4.52"/><circle cx="109.38" cy="373.39" r="4.28"/><circle cx="115.64" cy="373.3" r="3.48"/><circle cx="123" cy="375.9" r="4.03"/><circle cx="130.58" cy="374.8" r="4.59"/><circle cx="138.73" cy="374.09" r="4.08"/><circle cx="148.22" cy="375.89" r="5.59"/><circle cx="156.55" cy="373.93" r="3.68"/><circle cx="163.2" cy="375.65" r="3"/><circle cx="170.31" cy="374.44" r="5.17"/><circle cx="179.64" cy="373.2" r="5.17"/><circle cx="185.98" cy="374.7" r="5.35"/><circle cx="195.4" cy="373.43" r="3.91"/><circle cx="62.56" cy="391.38" r="3.56"/><circle cx="69.39" cy="393.53" r="5.5"/><circle cx="75.36" cy="391.42" r="3.49"/><circle cx="81.1" cy="391.67" r="5.03"/><circle cx="88.84" cy="391.71" r="4.05"/><circle cx="97.26" cy="393.16" r="3.17"/><circle cx="103.23" cy="391.78" r="3.98"/><circle cx="109.81" cy="393.67" r="5.52"/><circle cx="116.53" cy="391.77" r="5.28"/><circle cx="123.6" cy="393.15" r="5.19"/><circle cx="129.5" cy="391.78" r="5.57"/><circle cx="136.04" cy="392.15" r="4.96"/><circle cx="142.72" cy="391.39" r="3.01"/><circle cx="150.55" cy="393.02" r="3.48"/><circle cx="157.54" cy="394.17" r="4.07"/><circle cx="164.97" cy="393.87" r="4.41"/><circle cx="171.21" cy="394.01" r="3.23"/><circle cx="179.98" cy="391.71" r="3.5"/><circle cx="188.44" cy="391.73" r="5.43"/><circle cx="197.74" cy="393.03" r="5.27"/><circle cx="62.42" cy="369.86" r="1.64"/><circle cx="70.85" cy="371.06" r="2.3"/><circle cx="82.79" cy="371" r="2.2"/><circle cx="90.84" cy="371.38" r="2.32"/><circle cx="99.21" cy="370.05" r="2.16"/><circle cx="109.9" cy="369.94" r="1.88"/><circle cx="118.12" cy="371.04" r="1.62"/><circle cx="127.8" cy="371.2" r="1.66"/><circle cx="137.01" cy="371.28" r="2.17"/><circle cx="146.18" cy="369.83" r="2.49"/><circle cx="157.12" cy="370.51" r="2.29"/><circle cx="164.96" cy="371.47" r="1.64"/><circle cx="177.43" cy="369.86" r="2.3"/><circle cx="184.55" cy="370.68" r="2.24"/><circle cx="195.94" cy="369.8" r="1.92"/><circle cx="64.18" cy="397.53" r="2.34"/><circle cx="75.61" cy="397.35" r="2.3"/><circle cx="88.1" cy="397.16" r="1.95"/><circle cx="100.5" cy="396.71" r="2.47"/><circle cx="112.25" cy="396.97" r="2.46"/><circle cx="122.99" cy="396.99" r="1.98"/><circle cx="133.65" cy="397.09" r="1.68"/><circle cx="146.61" cy="397.24" r="2.48"/><circle cx="155.94" cy="396.99" r="2.34"/><circle cx="165.58" cy="396.14" r="2.44"/><circle cx="177.08" cy="397.02" r="1.63"/><circle cx="186.97" cy="397.19" r="1.83"/><circle cx="196.95" cy="397.56" r="2.21"/><circle cx="60.53" cy="378" r="3.95"/><circle cx="198.03" cy="378" r="3.8"/><circle cx="61.01" cy="383.75" r="4.86"/><circle cx="197.98" cy="383.75" r="4.16"/><circle cx="63.18" cy="389.5" r="3.99"/><circle cx="198" cy="389.5" r="3.8"/></g>
<ellipse cx="71.6" cy="385.0" rx="9" ry="8" fill="url(#dmgC)"/>
<ellipse cx="98.5" cy="385.3" rx="9" ry="8" fill="url(#dmgC)"/>
<ellipse cx="119.3" cy="384.1" rx="9" ry="8" fill="url(#dmgC)"/>
<ellipse cx="142.9" cy="382.3" rx="9" ry="8" fill="url(#dmgC)"/>
<ellipse cx="168.0" cy="385.1" rx="9" ry="8" fill="url(#dmgC)"/>
<ellipse cx="192.1" cy="384.6" rx="9" ry="8" fill="url(#dmgC)"/>
<circle cx="190.3" cy="379.84" r="1.82" fill="#8a6a50" opacity="0.9"/>
<circle cx="123.39" cy="379.82" r="1.91" fill="#8a6a50" opacity="0.9"/>
<circle cx="118.47" cy="385.95" r="2.44" fill="#8a6a50" opacity="0.9"/>
<circle cx="105.26" cy="389.68" r="3.37" fill="#8a6a50" opacity="0.9"/>
<circle cx="123.63" cy="376.31" r="1.56" fill="#8a6a50" opacity="0.9"/>
<circle cx="179.96" cy="375.73" r="2.85" fill="#8a6a50" opacity="0.9"/>
<circle cx="139.46" cy="380.41" r="3" fill="#8a6a50" opacity="0.9"/>
<circle cx="65.56" cy="377.38" r="2.36" fill="#8a6a50" opacity="0.9"/>
<circle cx="66.31" cy="389.52" r="1.95" fill="#8a6a50" opacity="0.9"/>
<circle cx="81.88" cy="375.82" r="2.7" fill="#8a6a50" opacity="0.9"/>
<circle cx="122.83" cy="386.02" r="2.74" fill="#8a6a50" opacity="0.9"/>
<circle cx="171.19" cy="391.77" r="2.8" fill="#8a6a50" opacity="0.9"/>
<circle cx="89.71" cy="383.31" r="1.84" fill="#8a6a50" opacity="0.9"/>
<circle cx="64.44" cy="383.26" r="2.86" fill="#8a6a50" opacity="0.9"/>
<circle cx="87" cy="379.77" r="2.16" fill="#8a6a50" opacity="0.9"/>
<circle cx="156.44" cy="384.11" r="2.67" fill="#8a6a50" opacity="0.9"/>
<circle cx="164.33" cy="381.89" r="3" fill="#8a6a50" opacity="0.9"/>
<circle cx="184.44" cy="376.53" r="3.27" fill="#8a6a50" opacity="0.9"/>
<circle cx="159.8" cy="377.27" r="2.36" fill="#8a6a50" opacity="0.9"/>
<circle cx="146.82" cy="390.92" r="2.22" fill="#8a6a50" opacity="0.9"/>
<circle cx="139.22" cy="390.39" r="3.01" fill="#8a6a50" opacity="0.9"/>
<circle cx="189.53" cy="383.11" r="2.74" fill="#8a6a50" opacity="0.9"/>
<circle cx="90.46" cy="387.63" r="3.05" fill="#8a6a50" opacity="0.9"/>
<circle cx="148.98" cy="387.56" r="1.91" fill="#8a6a50" opacity="0.9"/>
<circle cx="183.6" cy="392.16" r="3.36" fill="#8a6a50" opacity="0.9"/>
<circle cx="134.95" cy="388.84" r="2.11" fill="#8a6a50" opacity="0.9"/>
<circle cx="184.94" cy="389.98" r="2.16" fill="#8a6a50" opacity="0.9"/>
<circle cx="74.09" cy="382.72" r="2.55" fill="#8a6a50" opacity="0.9"/>
<circle cx="165.94" cy="383.53" r="1.55" fill="#8a6a50" opacity="0.9"/>
<circle cx="171.42" cy="376.12" r="3.02" fill="#8a6a50" opacity="0.9"/>
<circle cx="86.17" cy="380.86" r="3" fill="#8a6a50" opacity="0.9"/>
<circle cx="81.83" cy="377.6" r="2.48" fill="#8a6a50" opacity="0.9"/>
<circle cx="159.96" cy="389.7" r="2.81" fill="#8a6a50" opacity="0.9"/>
<circle cx="189.73" cy="383.62" r="3.3" fill="#8a6a50" opacity="0.9"/>
<circle cx="74.53" cy="378.87" r="2.5" fill="#8a6a50" opacity="0.9"/>
<circle cx="101.88" cy="387.75" r="2.71" fill="#8a6a50" opacity="0.9"/>
<circle cx="133.05" cy="389.76" r="2.56" fill="#8a6a50" opacity="0.9"/>
<circle cx="104.77" cy="381.67" r="3.11" fill="#8a6a50" opacity="0.9"/>
<circle cx="183.67" cy="378.64" r="3.12" fill="#8a6a50" opacity="0.9"/>
<circle cx="192.77" cy="384.17" r="2.59" fill="#8a6a50" opacity="0.9"/>
<circle cx="89.93" cy="384.38" r="2.46" fill="#8a6a50" opacity="0.9"/>
<circle cx="144.1" cy="375.49" r="3.34" fill="#8a6a50" opacity="0.9"/>
<circle cx="132.15" cy="382.01" r="3.02" fill="#8a6a50" opacity="0.9"/>
<circle cx="138.42" cy="383.59" r="2.81" fill="#8a6a50" opacity="0.9"/>
<circle cx="71.83" cy="384.43" r="2.29" fill="#8a6a50" opacity="0.9"/>
<circle cx="191.22" cy="391.16" r="2.01" fill="#8a6a50" opacity="0.9"/>
<circle cx="126.4" cy="377.22" r="2.32" fill="#8a6a50" opacity="0.9"/>
<circle cx="172.31" cy="390.76" r="2.41" fill="#8a6a50" opacity="0.9"/>
<circle cx="105.51" cy="378.35" r="2.67" fill="#8a6a50" opacity="0.9"/>
<circle cx="186.99" cy="377.27" r="2.98" fill="#8a6a50" opacity="0.9"/>
<circle cx="66.05" cy="378.4" r="1.93" fill="#8a6a50" opacity="0.9"/>
<circle cx="155.06" cy="380.64" r="2.18" fill="#8a6a50" opacity="0.9"/>
<circle cx="144.37" cy="381.38" r="3.6" fill="none" stroke="#8a6a50" stroke-width="1.6" opacity="0.85"/>
<circle cx="157.71" cy="381.49" r="3.6" fill="none" stroke="#8a6a50" stroke-width="1.6" opacity="0.85"/>
<circle cx="131.26" cy="382.25" r="3.6" fill="none" stroke="#8a6a50" stroke-width="1.6" opacity="0.85"/>
<circle cx="93.73" cy="383.93" r="3.6" fill="none" stroke="#8a6a50" stroke-width="1.6" opacity="0.85"/>
<circle cx="122.41" cy="383" r="3.6" fill="none" stroke="#8a6a50" stroke-width="1.6" opacity="0.85"/>
<g fill="#7a5a42" stroke="#7a5a42" stroke-width="3.8"><circle cx="63" cy="435" r="10"/><circle cx="69" cy="435" r="10"/><circle cx="75" cy="435" r="10"/><circle cx="81" cy="435" r="10"/><circle cx="87" cy="435" r="10"/><circle cx="93" cy="435" r="10"/><circle cx="99" cy="435" r="10"/><circle cx="105" cy="435" r="10"/><circle cx="111" cy="435" r="10"/><circle cx="117" cy="435" r="10"/><circle cx="123" cy="435" r="10"/><circle cx="129" cy="435" r="10"/><circle cx="135" cy="435" r="10"/><circle cx="141" cy="435" r="10"/><circle cx="147" cy="435" r="10"/><circle cx="153" cy="435" r="10"/><circle cx="159" cy="435" r="10"/><circle cx="165" cy="435" r="10"/><circle cx="171" cy="435" r="10"/><circle cx="177" cy="435" r="10"/><circle cx="183" cy="435" r="10"/><circle cx="189" cy="435" r="10"/><circle cx="195" cy="435" r="10"/><circle cx="61.83" cy="423.71" r="4.28"/><circle cx="68.14" cy="425.24" r="4.57"/><circle cx="75.76" cy="425.16" r="5.18"/><circle cx="84.69" cy="425.57" r="3.45"/><circle cx="93.43" cy="424.21" r="5.33"/><circle cx="100.19" cy="423.9" r="5.38"/><circle cx="109.68" cy="423.63" r="5.29"/><circle cx="116.14" cy="424.03" r="4.83"/><circle cx="122.03" cy="424.55" r="5.13"/><circle cx="130.69" cy="424.49" r="3.15"/><circle cx="138.93" cy="423.84" r="2.85"/><circle cx="147.16" cy="426.3" r="5.35"/><circle cx="153.12" cy="425.63" r="4.22"/><circle cx="160.63" cy="423.8" r="4.72"/><circle cx="166.42" cy="423.32" r="3.1"/><circle cx="174.12" cy="425.02" r="4.24"/><circle cx="180.21" cy="423.85" r="3.32"/><circle cx="189.07" cy="426.17" r="5.57"/><circle cx="194.95" cy="426.24" r="2.97"/><circle cx="62.53" cy="445.09" r="3.72"/><circle cx="70.09" cy="445.52" r="4"/><circle cx="75.64" cy="446.3" r="4.76"/><circle cx="81.87" cy="445.97" r="4.07"/><circle cx="88.99" cy="444.13" r="3.35"/><circle cx="96.54" cy="446.46" r="2.84"/><circle cx="105.25" cy="446.35" r="4.77"/><circle cx="113.26" cy="445.52" r="3.93"/><circle cx="120.78" cy="446.18" r="5.55"/><circle cx="127.31" cy="445.98" r="5.35"/><circle cx="135.93" cy="444.9" r="5.08"/><circle cx="145.01" cy="445.82" r="5.26"/><circle cx="153.58" cy="444.9" r="4.94"/><circle cx="161.97" cy="444.69" r="3"/><circle cx="169.35" cy="444.74" r="2.83"/><circle cx="177.4" cy="444.34" r="4.55"/><circle cx="186.68" cy="444.68" r="4.67"/><circle cx="194.82" cy="445.31" r="4.39"/><circle cx="66" cy="420.31" r="2.24"/><circle cx="77.57" cy="421.46" r="2.58"/><circle cx="88.26" cy="421.06" r="2.34"/><circle cx="97.67" cy="421.17" r="1.65"/><circle cx="106.93" cy="421.07" r="1.7"/><circle cx="119.36" cy="420.64" r="2.15"/><circle cx="132.16" cy="419.81" r="2.17"/><circle cx="142.99" cy="421.37" r="2.41"/><circle cx="153.58" cy="421.42" r="2.36"/><circle cx="166.16" cy="420.7" r="1.76"/><circle cx="174.17" cy="420.46" r="2.1"/><circle cx="181.52" cy="420.78" r="2.55"/><circle cx="191.68" cy="420.88" r="2.2"/><circle cx="64.62" cy="448.98" r="2.16"/><circle cx="75.92" cy="448.52" r="1.9"/><circle cx="84.39" cy="448.77" r="1.64"/><circle cx="95.92" cy="450.03" r="1.99"/><circle cx="107.41" cy="450.18" r="1.65"/><circle cx="120.07" cy="450.04" r="1.67"/><circle cx="129.65" cy="450.15" r="2.08"/><circle cx="138.11" cy="450.09" r="2.12"/><circle cx="149.45" cy="450.16" r="2.07"/><circle cx="161.35" cy="448.7" r="2.2"/><circle cx="172.1" cy="448.85" r="2.06"/><circle cx="179.41" cy="448.71" r="2.13"/><circle cx="189.07" cy="449.27" r="2.27"/><circle cx="62.25" cy="428" r="4.13"/><circle cx="198.33" cy="428" r="4.3"/><circle cx="63.49" cy="435" r="4.93"/><circle cx="198.2" cy="435" r="3.86"/><circle cx="60.84" cy="442" r="4.84"/><circle cx="198.35" cy="442" r="4.44"/></g>
<g fill="#9e7659"><circle cx="63" cy="435" r="10"/><circle cx="69" cy="435" r="10"/><circle cx="75" cy="435" r="10"/><circle cx="81" cy="435" r="10"/><circle cx="87" cy="435" r="10"/><circle cx="93" cy="435" r="10"/><circle cx="99" cy="435" r="10"/><circle cx="105" cy="435" r="10"/><circle cx="111" cy="435" r="10"/><circle cx="117" cy="435" r="10"/><circle cx="123" cy="435" r="10"/><circle cx="129" cy="435" r="10"/><circle cx="135" cy="435" r="10"/><circle cx="141" cy="435" r="10"/><circle cx="147" cy="435" r="10"/><circle cx="153" cy="435" r="10"/><circle cx="159" cy="435" r="10"/><circle cx="165" cy="435" r="10"/><circle cx="171" cy="435" r="10"/><circle cx="177" cy="435" r="10"/><circle cx="183" cy="435" r="10"/><circle cx="189" cy="435" r="10"/><circle cx="195" cy="435" r="10"/><circle cx="61.83" cy="423.71" r="4.28"/><circle cx="68.14" cy="425.24" r="4.57"/><circle cx="75.76" cy="425.16" r="5.18"/><circle cx="84.69" cy="425.57" r="3.45"/><circle cx="93.43" cy="424.21" r="5.33"/><circle cx="100.19" cy="423.9" r="5.38"/><circle cx="109.68" cy="423.63" r="5.29"/><circle cx="116.14" cy="424.03" r="4.83"/><circle cx="122.03" cy="424.55" r="5.13"/><circle cx="130.69" cy="424.49" r="3.15"/><circle cx="138.93" cy="423.84" r="2.85"/><circle cx="147.16" cy="426.3" r="5.35"/><circle cx="153.12" cy="425.63" r="4.22"/><circle cx="160.63" cy="423.8" r="4.72"/><circle cx="166.42" cy="423.32" r="3.1"/><circle cx="174.12" cy="425.02" r="4.24"/><circle cx="180.21" cy="423.85" r="3.32"/><circle cx="189.07" cy="426.17" r="5.57"/><circle cx="194.95" cy="426.24" r="2.97"/><circle cx="62.53" cy="445.09" r="3.72"/><circle cx="70.09" cy="445.52" r="4"/><circle cx="75.64" cy="446.3" r="4.76"/><circle cx="81.87" cy="445.97" r="4.07"/><circle cx="88.99" cy="444.13" r="3.35"/><circle cx="96.54" cy="446.46" r="2.84"/><circle cx="105.25" cy="446.35" r="4.77"/><circle cx="113.26" cy="445.52" r="3.93"/><circle cx="120.78" cy="446.18" r="5.55"/><circle cx="127.31" cy="445.98" r="5.35"/><circle cx="135.93" cy="444.9" r="5.08"/><circle cx="145.01" cy="445.82" r="5.26"/><circle cx="153.58" cy="444.9" r="4.94"/><circle cx="161.97" cy="444.69" r="3"/><circle cx="169.35" cy="444.74" r="2.83"/><circle cx="177.4" cy="444.34" r="4.55"/><circle cx="186.68" cy="444.68" r="4.67"/><circle cx="194.82" cy="445.31" r="4.39"/><circle cx="66" cy="420.31" r="2.24"/><circle cx="77.57" cy="421.46" r="2.58"/><circle cx="88.26" cy="421.06" r="2.34"/><circle cx="97.67" cy="421.17" r="1.65"/><circle cx="106.93" cy="421.07" r="1.7"/><circle cx="119.36" cy="420.64" r="2.15"/><circle cx="132.16" cy="419.81" r="2.17"/><circle cx="142.99" cy="421.37" r="2.41"/><circle cx="153.58" cy="421.42" r="2.36"/><circle cx="166.16" cy="420.7" r="1.76"/><circle cx="174.17" cy="420.46" r="2.1"/><circle cx="181.52" cy="420.78" r="2.55"/><circle cx="191.68" cy="420.88" r="2.2"/><circle cx="64.62" cy="448.98" r="2.16"/><circle cx="75.92" cy="448.52" r="1.9"/><circle cx="84.39" cy="448.77" r="1.64"/><circle cx="95.92" cy="450.03" r="1.99"/><circle cx="107.41" cy="450.18" r="1.65"/><circle cx="120.07" cy="450.04" r="1.67"/><circle cx="129.65" cy="450.15" r="2.08"/><circle cx="138.11" cy="450.09" r="2.12"/><circle cx="149.45" cy="450.16" r="2.07"/><circle cx="161.35" cy="448.7" r="2.2"/><circle cx="172.1" cy="448.85" r="2.06"/><circle cx="179.41" cy="448.71" r="2.13"/><circle cx="189.07" cy="449.27" r="2.27"/><circle cx="62.25" cy="428" r="4.13"/><circle cx="198.33" cy="428" r="4.3"/><circle cx="63.49" cy="435" r="4.93"/><circle cx="198.2" cy="435" r="3.86"/><circle cx="60.84" cy="442" r="4.84"/><circle cx="198.35" cy="442" r="4.44"/></g>
<ellipse cx="71.2" cy="434.1" rx="9" ry="8" fill="url(#dmgC)"/>
<ellipse cx="97.1" cy="435.3" rx="9" ry="8" fill="url(#dmgC)"/>
<ellipse cx="120.6" cy="435.5" rx="9" ry="8" fill="url(#dmgC)"/>
<ellipse cx="145.5" cy="433.8" rx="9" ry="8" fill="url(#dmgC)"/>
<ellipse cx="166.5" cy="436.9" rx="9" ry="8" fill="url(#dmgC)"/>
<ellipse cx="192.5" cy="436.5" rx="9" ry="8" fill="url(#dmgC)"/>
<circle cx="68.29" cy="426.22" r="2.01" fill="#8a6a50" opacity="0.9"/>
<circle cx="119.98" cy="437.47" r="1.69" fill="#8a6a50" opacity="0.9"/>
<circle cx="135.58" cy="426.45" r="1.66" fill="#8a6a50" opacity="0.9"/>
<circle cx="153.62" cy="436.01" r="2.7" fill="#8a6a50" opacity="0.9"/>
<circle cx="113.01" cy="434.57" r="1.9" fill="#8a6a50" opacity="0.9"/>
<circle cx="109.06" cy="439.9" r="3.09" fill="#8a6a50" opacity="0.9"/>
<circle cx="72.96" cy="427.4" r="3.04" fill="#8a6a50" opacity="0.9"/>
<circle cx="146.58" cy="440.38" r="1.91" fill="#8a6a50" opacity="0.9"/>
<circle cx="119.86" cy="430.16" r="3.04" fill="#8a6a50" opacity="0.9"/>
<circle cx="112.44" cy="438.07" r="3.38" fill="#8a6a50" opacity="0.9"/>
<circle cx="106.6" cy="435.97" r="2.92" fill="#8a6a50" opacity="0.9"/>
<circle cx="186.39" cy="433.55" r="2.2" fill="#8a6a50" opacity="0.9"/>
<circle cx="76" cy="442.5" r="1.65" fill="#8a6a50" opacity="0.9"/>
<circle cx="74.12" cy="436.28" r="2.42" fill="#8a6a50" opacity="0.9"/>
<circle cx="154.83" cy="430.98" r="2.97" fill="#8a6a50" opacity="0.9"/>
<circle cx="73.19" cy="429.27" r="2.76" fill="#8a6a50" opacity="0.9"/>
<circle cx="73.95" cy="431.08" r="2.88" fill="#8a6a50" opacity="0.9"/>
<circle cx="155.99" cy="430.66" r="1.77" fill="#8a6a50" opacity="0.9"/>
<circle cx="110.95" cy="439.52" r="2.2" fill="#8a6a50" opacity="0.9"/>
<circle cx="78.73" cy="439.19" r="2.58" fill="#8a6a50" opacity="0.9"/>
<circle cx="186.09" cy="443.8" r="3.24" fill="#8a6a50" opacity="0.9"/>
<circle cx="121.69" cy="441.06" r="2.08" fill="#8a6a50" opacity="0.9"/>
<circle cx="105.56" cy="432.99" r="3.28" fill="#8a6a50" opacity="0.9"/>
<circle cx="182.89" cy="429.97" r="2.19" fill="#8a6a50" opacity="0.9"/>
<circle cx="111.99" cy="432.27" r="2.25" fill="#8a6a50" opacity="0.9"/>
<circle cx="114.94" cy="428.9" r="2.57" fill="#8a6a50" opacity="0.9"/>
<circle cx="169.81" cy="435.81" r="3.09" fill="#8a6a50" opacity="0.9"/>
<circle cx="138.41" cy="428.53" r="2.94" fill="#8a6a50" opacity="0.9"/>
<circle cx="181.04" cy="430.63" r="1.54" fill="#8a6a50" opacity="0.9"/>
<circle cx="132.1" cy="435.88" r="2.58" fill="#8a6a50" opacity="0.9"/>
<circle cx="192.5" cy="438.02" r="3.03" fill="#8a6a50" opacity="0.9"/>
<circle cx="71.58" cy="435.94" r="3" fill="#8a6a50" opacity="0.9"/>
<circle cx="74.26" cy="426.63" r="2.9" fill="#8a6a50" opacity="0.9"/>
<circle cx="183.48" cy="426.69" r="2.7" fill="#8a6a50" opacity="0.9"/>
<circle cx="82.28" cy="439.92" r="2.73" fill="#8a6a50" opacity="0.9"/>
<circle cx="95.89" cy="429.41" r="2.95" fill="#8a6a50" opacity="0.9"/>
<circle cx="132.89" cy="440.29" r="2.25" fill="#8a6a50" opacity="0.9"/>
<circle cx="108.27" cy="444.37" r="2.78" fill="#8a6a50" opacity="0.9"/>
<circle cx="129.15" cy="435.75" r="2.87" fill="#8a6a50" opacity="0.9"/>
<circle cx="157.89" cy="443.3" r="2.28" fill="#8a6a50" opacity="0.9"/>
<circle cx="173.72" cy="438.33" r="3.12" fill="#8a6a50" opacity="0.9"/>
<circle cx="170.99" cy="441.68" r="3.19" fill="#8a6a50" opacity="0.9"/>
<circle cx="191.34" cy="437.81" r="2.5" fill="#8a6a50" opacity="0.9"/>
<circle cx="158.15" cy="441.05" r="2.3" fill="#8a6a50" opacity="0.9"/>
<circle cx="119.34" cy="427.92" r="2.91" fill="#8a6a50" opacity="0.9"/>
<circle cx="195.8" cy="432.51" r="1.82" fill="#8a6a50" opacity="0.9"/>
<circle cx="90.38" cy="433.5" r="2.05" fill="#8a6a50" opacity="0.9"/>
<circle cx="192.95" cy="426.18" r="2.09" fill="#8a6a50" opacity="0.9"/>
<circle cx="78.38" cy="437.96" r="2.97" fill="#8a6a50" opacity="0.9"/>
<circle cx="87.04" cy="426.25" r="2.37" fill="#8a6a50" opacity="0.9"/>
<circle cx="141.26" cy="443.19" r="1.57" fill="#8a6a50" opacity="0.9"/>
<circle cx="77.56" cy="428.69" r="1.91" fill="#8a6a50" opacity="0.9"/>
<circle cx="98.25" cy="436.3" r="3.6" fill="none" stroke="#8a6a50" stroke-width="1.6" opacity="0.85"/>
<circle cx="141.37" cy="433.34" r="3.6" fill="none" stroke="#8a6a50" stroke-width="1.6" opacity="0.85"/>
<circle cx="92.2" cy="433.69" r="3.6" fill="none" stroke="#8a6a50" stroke-width="1.6" opacity="0.85"/>
<circle cx="90.7" cy="436.55" r="3.6" fill="none" stroke="#8a6a50" stroke-width="1.6" opacity="0.85"/>
<circle cx="107.41" cy="435.29" r="3.6" fill="none" stroke="#8a6a50" stroke-width="1.6" opacity="0.85"/>
</svg></body></html>
